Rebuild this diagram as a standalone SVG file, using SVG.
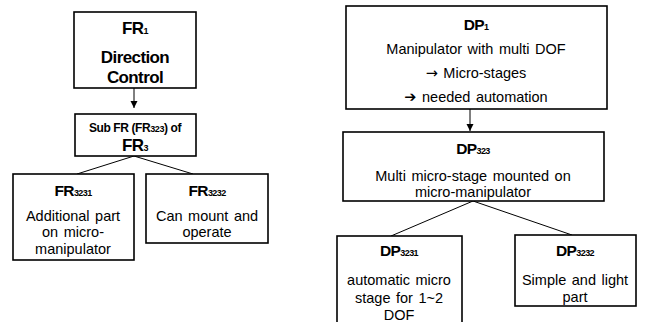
<svg xmlns="http://www.w3.org/2000/svg" width="646" height="322" viewBox="0 0 646 322">
  <style>
    .box { fill: #fff; stroke: #000; stroke-width: 1.6; }
    .link { stroke: #000; stroke-width: 1; fill: none; }
    text { font-family: "Liberation Sans", Arial, sans-serif; fill: #000; text-anchor: middle; }
    .ttl { font-weight: bold; font-size: 15.5px; letter-spacing: -0.6px; }
    .big { font-weight: bold; font-size: 17px; letter-spacing: -0.6px; }
    .sm { font-weight: bold; font-size: 12px; letter-spacing: -0.4px; }
    .body { font-size: 14.5px; word-spacing: 1.5px; }
    .sub { font-size: 9px; }
    .arr { font-family: "DejaVu Sans", sans-serif; }
  </style>
  <defs>
    <marker id="head" markerWidth="8" markerHeight="8" refX="7" refY="4" orient="auto" markerUnits="userSpaceOnUse">
      <path d="M0,0.5 L7,4 L0,7.5 Z" fill="#000"/>
    </marker>
  </defs>

  <g id="connectors">
    <line class="link" x1="134" y1="88" x2="134" y2="108" marker-end="url(#head)"/>
    <line class="link" x1="134" y1="156" x2="77" y2="174"/>
    <line class="link" x1="134" y1="156" x2="193" y2="174"/>
    <line class="link" x1="470" y1="109" x2="470" y2="131" marker-end="url(#head)"/>
    <line class="link" x1="473" y1="201" x2="391" y2="236"/>
    <line class="link" x1="473" y1="201" x2="572" y2="235"/>
  </g>

  <g id="fr1">
    <rect class="box" x="74" y="12" width="122" height="76"/>
    <text class="big" x="135" y="34">FR<tspan class="sub">1</tspan></text>
    <text class="big" x="135" y="63">Direction</text>
    <text class="big" x="135" y="83">Control</text>
  </g>

  <g id="fr323">
    <rect class="box" x="75" y="114" width="121" height="42"/>
    <text class="sm" x="135" y="132">Sub FR (FR<tspan class="sub">323</tspan>) of</text>
    <text class="big" x="135" y="151">FR<tspan class="sub">3</tspan></text>
  </g>

  <g id="fr3231">
    <rect class="box" x="13" y="174" width="121" height="86"/>
    <text class="ttl" x="73" y="196">FR<tspan class="sub">3231</tspan></text>
    <text class="body" x="73" y="221">Additional part</text>
    <text class="body" x="73" y="237">on micro-</text>
    <text class="body" x="73" y="254">manipulator</text>
  </g>

  <g id="fr3232">
    <rect class="box" x="146" y="174" width="122" height="69"/>
    <text class="ttl" x="207" y="196">FR<tspan class="sub">3232</tspan></text>
    <text class="body" x="207" y="221">Can mount and</text>
    <text class="body" x="207" y="237">operate</text>
  </g>

  <g id="dp1">
    <rect class="box" x="346" y="6" width="261" height="103"/>
    <text class="ttl" x="476" y="30">DP<tspan class="sub">1</tspan></text>
    <text class="body" x="476" y="54">Manipulator with multi DOF</text>
    <text class="body" x="476" y="78"><tspan class="arr">→</tspan> Micro-stages</text>
    <text class="body" x="476" y="102"><tspan class="arr">➔</tspan> needed automation</text>
  </g>

  <g id="dp323">
    <rect class="box" x="343" y="132" width="261" height="69"/>
    <text class="ttl" x="473" y="154">DP<tspan class="sub">323</tspan></text>
    <text class="body" x="473" y="181">Multi micro-stage mounted on</text>
    <text class="body" x="473" y="197">micro-manipulator</text>
  </g>

  <g id="dp3231">
    <rect class="box" x="337" y="236" width="125" height="92"/>
    <text class="ttl" x="399" y="256">DP<tspan class="sub">3231</tspan></text>
    <text class="body" x="399" y="285">automatic micro</text>
    <text class="body" x="399" y="303">stage for 1~2</text>
    <text class="body" x="399" y="320">DOF</text>
  </g>

  <g id="dp3232">
    <rect class="box" x="515" y="235" width="121" height="71"/>
    <text class="ttl" x="575" y="256">DP<tspan class="sub">3232</tspan></text>
    <text class="body" x="575" y="285">Simple and light</text>
    <text class="body" x="575" y="302">part</text>
  </g>
</svg>
